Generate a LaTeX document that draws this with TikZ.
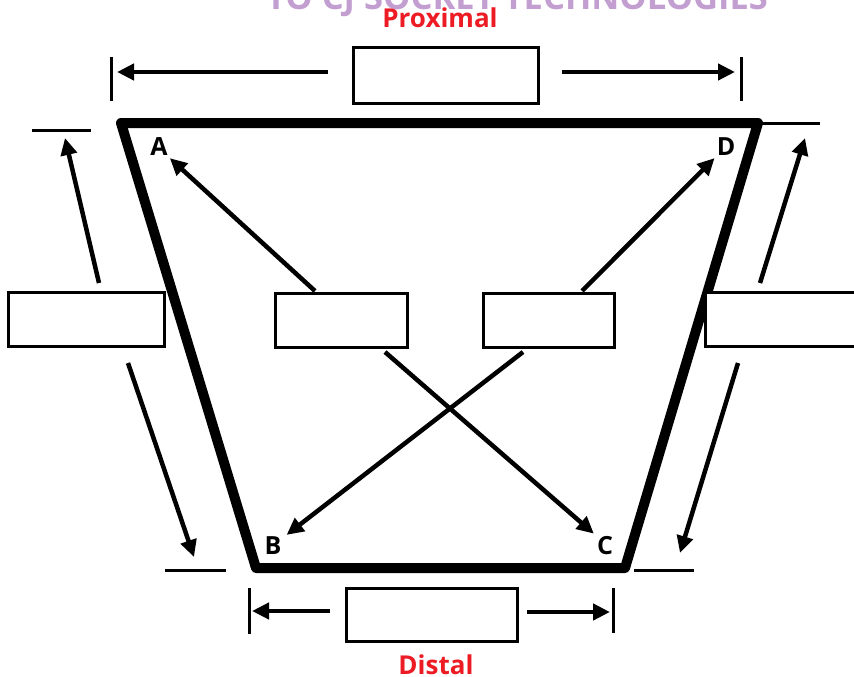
\documentclass[tikz,border=0pt]{standalone}
\usepackage{fontspec}
\newfontfamily\osans{Open Sans}
\usetikzlibrary{arrows.meta}
\definecolor{redlab}{RGB}{237,28,36}
\definecolor{purp}{RGB}{195,158,208}
\begin{document}
\begin{tikzpicture}[x=1pt,y=-1pt,
  box/.style={draw, line width=3pt, fill=white, inner sep=0pt},
  dimarrow/.style={line width=4.5pt, -{Triangle[length=17pt,width=16pt]}},
  tickline/.style={line width=3pt},
  corner/.style={font=\osans\bfseries\fontsize{25}{25}\selectfont, inner sep=0pt},
  title/.style={font=\osans\bfseries\fontsize{26}{26}\selectfont, text=redlab, inner sep=0pt},
  trap/.style={line width=10pt, line join=round}]
\useasboundingbox (0,0) rectangle (854,677);
\fill[white] (0,0) rectangle (854,677);
% watermark
\node[font=\osans\bfseries\fontsize{34.5}{34.5}\selectfont, text=purp, anchor=base, inner sep=0pt] (wm) at (517,10) {TO CJ SOCKET TECHNOLOGIES};
% titles
\node[title, anchor=base] (prox) at (440,28) {Proximal};
\node[title, anchor=base] (dist) at (436,674) {Distal};
% trapezoid
\coordinate (tA) at (121,123);
\coordinate (tD) at (758,123);
\coordinate (tC) at (625,568);
\coordinate (tB) at (256,568);
\draw[trap] (tA) -- (tD) -- (tC) -- (tB) -- cycle;
% corner labels
\node[corner] (A) at (159,147) {A};
\node[corner] (D) at (726,147) {D};
\node[corner] (B) at (273,546) {B};
\node[corner] (C) at (605,546) {C};
% boxes
\node[box, minimum width=185pt, minimum height=55pt] (topbox) at (445.5,75.5) {};
\node[box, minimum width=171pt, minimum height=53pt] (botbox) at (431.5,614.5) {};
\node[box, minimum width=156pt, minimum height=54pt] (leftbox) at (86,319) {};
\node[box, minimum width=156pt, minimum height=54pt] (rightbox) at (783,319) {};
\node[box, minimum width=132pt, minimum height=54pt] (cl) at (341,320) {};
\node[box, minimum width=131pt, minimum height=54pt] (cr) at (548.5,320) {};
% top dimension
\coordinate (ttl1) at (111,57); \coordinate (ttl2) at (111,101);
\coordinate (ttr1) at (741,57); \coordinate (ttr2) at (741,101);
\draw[tickline] (ttl1) -- (ttl2);
\draw[tickline] (ttr1) -- (ttr2);
\coordinate (tas) at (328,72); \coordinate (tae) at (117,72);
\coordinate (tbs) at (562,72); \coordinate (tbe) at (735,72);
\draw[dimarrow] (tas) -- (tae);
\draw[dimarrow] (tbs) -- (tbe);
% bottom dimension
\coordinate (btl1) at (249,588); \coordinate (btl2) at (249,634);
\coordinate (btr1) at (613,588); \coordinate (btr2) at (613,633);
\draw[tickline] (btl1) -- (btl2);
\draw[tickline] (btr1) -- (btr2);
\coordinate (bas) at (330,611); \coordinate (bae) at (252,611);
\coordinate (bbs) at (527,612); \coordinate (bbe) at (610,612);
\draw[dimarrow] (bas) -- (bae);
\draw[dimarrow] (bbs) -- (bbe);
% left side
\coordinate (lt1) at (32,130); \coordinate (lt2) at (91,130);
\draw[tickline] (lt1) -- (lt2);
\coordinate (lb1) at (165,570); \coordinate (lb2) at (226,570);
\draw[tickline] (lb1) -- (lb2);
\coordinate (las) at (99,283); \coordinate (lae) at (65,138);
\coordinate (lbs) at (128,363); \coordinate (lbe) at (194,557);
\draw[dimarrow] (las) -- (lae);
\draw[dimarrow] (lbs) -- (lbe);
% right side
\coordinate (rt1) at (758,123); \coordinate (rt2) at (820,123);
\draw[tickline] (rt1) -- (rt2);
\coordinate (rb1) at (634,570); \coordinate (rb2) at (694,570);
\draw[tickline] (rb1) -- (rb2);
\coordinate (ras) at (760,283); \coordinate (rae) at (805,138);
\coordinate (rbs) at (738,363); \coordinate (rbe) at (680,553);
\draw[dimarrow] (ras) -- (rae);
\draw[dimarrow] (rbs) -- (rbe);
% diagonal arrows
\coordinate (s1) at (315,291); \coordinate (s2) at (582,291);
\coordinate (s3) at (385,352); \coordinate (s4) at (523,352);
\draw[dimarrow] (s1) -- ([shift={(2pt,-2pt)}]A.south east);
\draw[dimarrow] (s2) -- ([shift={(-2pt,-2pt)}]D.south west);
\draw[dimarrow] (s3) -- ([shift={(-3pt,3pt)}]C.north west);
\draw[dimarrow] (s4) -- ([shift={(5pt,2pt)}]B.north east);
\end{tikzpicture}
\end{document}
